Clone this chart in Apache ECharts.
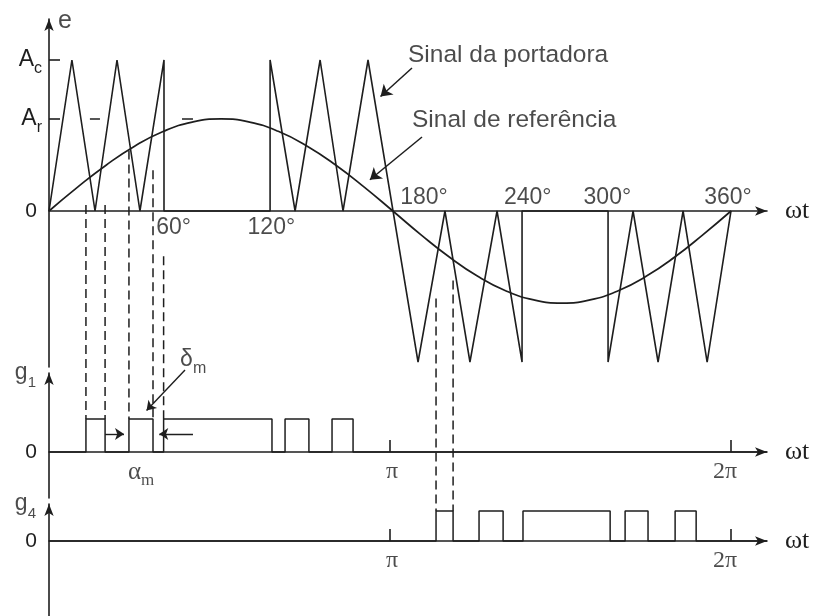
<!DOCTYPE html>
<html><head><meta charset="utf-8">
<script src="https://cdn.jsdelivr.net/npm/echarts@6/dist/echarts.min.js"></script>
<style>html,body{margin:0;padding:0;background:#fff}#c{width:813px;height:616px}</style>
</head><body><div id="c"></div>
<script>
// Angle axis in degrees: 360 = one period (2π) of the reference wave.
const refAngles = [0, 15.1, 30.3, 45.4, 60.5, 75.6, 90.8, 105.9, 121, 136.1, 151.3, 166.4, 181.5,
                   196.4, 211.3, 226.1, 241, 255.9, 270.8, 285.6, 300.5, 315.4, 330.3, 345.1, 360];
const refValues = [0, 0.158, 0.305, 0.431, 0.528, 0.589, 0.61, 0.589, 0.528, 0.431, 0.305, 0.158, 0,
                   -0.158, -0.305, -0.431, -0.528, -0.589, -0.61, -0.589, -0.528, -0.431, -0.305, -0.158, 0];

// Triangular carrier, switched off in the middle 60° of each half cycle.
const carrierAngles = [0, 12.1, 24.3, 35.9, 48, 60.7, 60.7, 116.7, 116.7, 129.9, 143.1, 155.2, 168.4, 181.6,
                       194.8, 209, 222.2, 236.5, 249.7, 249.7, 295.1, 295.1, 308.3, 321.5, 334.7, 347.4, 360];
const carrierValues = [0, 1, 0, 1, 0, 1, 0, 0, 1, 0, 1, 0, 1, 0,
                       -1, 0, -1, 0, -1, 0, 0, -1, 0, -1, 0, -1, 0];

const Ac = 1;
const Ar = 0.61;
const arMarks = [[21.6, 26.9], [70.2, 76]];

// Gate signals: [on, off] angles of every pulse.
const g1Pulses = [[19.5, 29.6], [42.2, 54.9], [60.5, 117.7], [124.6, 137.2], [149.4, 160.5]];
const g4Pulses = [[204.3, 213.3], [227, 239.7], [250.2, 296.2], [304.1, 316.2], [330.5, 341.6]];

// Heights on the e panel where the dashed edge guides begin.
const g1GuideStarts = [0.04, 0.04, 0.40, 0.27, -0.30];
const g4GuideStarts = [-0.58, -0.46];

const degTicks = [60, 120, 180, 240, 300, 360];
const degLabels = ['60°', '120°', '180°', '240°', '300°', '360°'];
const piTicks = [180, 360];
const piLabels = ['π', '2π'];

const ink = '#1e1e1e';
const sans = '"Liberation Sans", Arial, Helvetica, sans-serif';
const serif = '"Liberation Serif", "Times New Roman", serif';
const xMax = 379;

const zip = (a, b) => a.map((v, i) => [v, b[i]]);
const pulseTrain = pulses => {
  const pts = [[0, 0]];
  pulses.forEach(([a, b]) => { pts.push([a, 0], [a, 1], [b, 1], [b, 0]); });
  pts.push([xMax, 0]);
  return pts;
};

const axisLineStyle = { color: ink, width: 1.6 };
const arrowLine = { show: true, onZero: false, symbol: ['none', 'arrow'], symbolSize: [7, 12], lineStyle: axisLineStyle };

function xAxisFor(gi, withPi) {
  return {
    type: 'value', gridIndex: gi, min: 0, max: xMax,
    axisLine: { show: true, onZero: true, symbol: ['none', 'arrow'], symbolSize: [7, 12], lineStyle: axisLineStyle },
    splitLine: { show: false },
    axisTick: withPi ? { show: true, inside: true, length: 12, customValues: piTicks, lineStyle: axisLineStyle } : { show: false },
    axisLabel: { show: false },
    name: 'ωt', nameLocation: 'end', nameGap: 18,
    nameTextStyle: { fontFamily: serif, fontSize: 26, color: ink, align: 'left', verticalAlign: 'middle' }
  };
}

const zeroLabel = {
  show: true, customValues: [0], formatter: () => '0', margin: 12,
  fontFamily: sans, fontSize: 21, color: ink
};

const subRich = (mainSize, subSize, fam) => ({
  a: { fontFamily: fam, fontSize: mainSize, lineHeight: 34, color: ink },
  s: { fontFamily: fam, fontSize: subSize, lineHeight: 16, verticalAlign: 'bottom', color: ink }
});

const textPoint = (x, y, text, label) => ({
  value: [x, y],
  label: Object.assign({ show: true, formatter: text, color: ink, fontFamily: sans, fontSize: 23, textBorderWidth: 0 }, label)
});

const degOffsets = [[11, 17], [-5, 17], [34, -13], [24, -13], [-10, -13], [-3, -13]];
const piOffsets = [[2, 20], [-6, 20]];
const piTexts = () => piTicks.map((v, i) => textPoint(v, 0, piLabels[i], {
  position: 'inside', offset: piOffsets[i], fontFamily: serif, fontSize: 24
}));

const option = {
  animation: false,
  backgroundColor: '#fff',
  grid: [
    { left: 49, right: 46, top: 19, height: 348, outerBoundsMode: 'none' },
    { left: 49, right: 46, top: 373, height: 125, outerBoundsMode: 'none' },
    { left: 49, right: 46, top: 504, height: 112, outerBoundsMode: 'none' }
  ],
  xAxis: [xAxisFor(0, false), xAxisFor(1, true), xAxisFor(2, true)],
  yAxis: [
    {
      type: 'value', gridIndex: 0, min: -1.0331, max: 1.2715,
      axisLine: arrowLine, splitLine: { show: false },
      axisTick: { show: true, inside: true, length: 11, customValues: [Ar, Ac], lineStyle: axisLineStyle },
      axisLabel: {
        show: true, customValues: [0, Ar, Ac], margin: 7,
        formatter: v => v === 0 ? '{n|0}' : (v === Ac ? '{a|A}{s|c}' : '{a|A}{s|r}'),
        rich: Object.assign(subRich(23, 16, sans), {
          n: { fontFamily: sans, fontSize: 21, color: ink, padding: [0, 5, 0, 0] }
        })
      }
    },
    {
      type: 'value', gridIndex: 1, min: -1.3939, max: 2.3939,
      axisLine: arrowLine, splitLine: { show: false }, axisTick: { show: false }, axisLabel: zeroLabel
    },
    {
      type: 'value', gridIndex: 2, min: -2.5, max: 1.2333,
      axisLine: arrowLine, splitLine: { show: false }, axisTick: { show: false }, axisLabel: zeroLabel
    }
  ],
  series: [
    {
      name: 'Sinal de referência', type: 'line', xAxisIndex: 0, yAxisIndex: 0,
      data: zip(refAngles, refValues), smooth: true, showSymbol: false, silent: true,
      lineStyle: { color: ink, width: 1.7 }
    },
    {
      name: 'Sinal da portadora', type: 'line', xAxisIndex: 0, yAxisIndex: 0,
      data: zip(carrierAngles, carrierValues), showSymbol: false, silent: true,
      lineStyle: { color: ink, width: 1.6 }
    },
    {
      type: 'lines', coordinateSystem: 'cartesian2d', xAxisIndex: 0, yAxisIndex: 0, silent: true,
      symbol: 'none', lineStyle: { color: ink, width: 1.5, opacity: 1 },
      data: arMarks.map(([a, b]) => ({ coords: [[a, Ar], [b, Ar]] }))
    },
    {
      name: 'g1', type: 'line', xAxisIndex: 1, yAxisIndex: 1,
      data: pulseTrain(g1Pulses), showSymbol: false, silent: true,
      lineStyle: { color: ink, width: 1.5 }
    },
    {
      name: 'g4', type: 'line', xAxisIndex: 2, yAxisIndex: 2,
      data: pulseTrain(g4Pulses), showSymbol: false, silent: true,
      lineStyle: { color: ink, width: 1.5 }
    },
    // annotation arrows on the e panel
    {
      type: 'lines', coordinateSystem: 'cartesian2d', xAxisIndex: 0, yAxisIndex: 0, silent: true, clip: false,
      symbol: ['none', 'arrow'], symbolSize: [7, 11], lineStyle: { color: ink, width: 1.5, opacity: 1 },
      data: [
        { coords: [[191.6, 0.947], [175.0, 0.758]] },
        { coords: [[196.9, 0.490], [169.4, 0.207]] }
      ]
    },
    // δm arrow and pulse width arrows on the g1 panel
    {
      type: 'lines', coordinateSystem: 'cartesian2d', xAxisIndex: 1, yAxisIndex: 1, silent: true, clip: false,
      symbol: ['none', 'arrow'], symbolSize: [6, 9], lineStyle: { color: ink, width: 1.4, opacity: 1 },
      data: [
        { coords: [[71.8, 2.485], [51.5, 1.26]] },
        { coords: [[29.6, 0.545], [39.6, 0.545]] },
        { coords: [[76.0, 0.545], [58.2, 0.545]] }
      ]
    },
    // texts on the e panel
    {
      type: 'scatter', xAxisIndex: 0, yAxisIndex: 0, symbolSize: 0, silent: true, clip: false,
      data: [
        textPoint(189.5, 1.033, 'Sinal da portadora', { position: 'right', distance: 0, fontSize: 24.5 }),
        textPoint(191.6, 0.603, 'Sinal de referência', { position: 'right', distance: 0, fontSize: 24.5 }),
        textPoint(4.75, 1.258, 'e', { position: 'right', distance: 0, fontSize: 25 }),
        textPoint(69.2, -0.987, '{a|δ}{s|m}', { position: 'right', distance: 0, rich: subRich(23, 16, sans) })
      ].concat(degTicks.map((d, i) => textPoint(d, 0, degLabels[i], { position: 'inside', offset: degOffsets[i] })))
    },
    // texts on the g1 panel
    {
      type: 'scatter', xAxisIndex: 1, yAxisIndex: 1, symbolSize: 0, silent: true, clip: false,
      data: [
        textPoint(41.7, -0.606, '{a|α}{s|m}', { position: 'right', distance: 0, rich: subRich(25, 17, serif) }),
        textPoint(0, 2.3939, '{a|g}{s|1}', { position: 'left', distance: 13, rich: subRich(23, 15, sans) })
      ].concat(piTexts())
    },
    // texts on the g4 panel
    {
      type: 'scatter', xAxisIndex: 2, yAxisIndex: 2, symbolSize: 0, silent: true, clip: false,
      data: [
        textPoint(0, 1.2333, '{a|g}{s|4}', { position: 'left', distance: 13, rich: subRich(23, 15, sans) })
      ].concat(piTexts())
    }
  ]
};

const chart = echarts.init(document.getElementById('c'), null, { renderer: 'canvas' });
chart.setOption(option);

// Dashed guides from the e panel down to the gate pulse edges.
function guide(x, yStart, gi) {
  const p0 = chart.convertToPixel({ gridIndex: 0 }, [x, yStart]);
  const p1 = chart.convertToPixel({ gridIndex: gi }, [x, 1]);
  return {
    type: 'line', silent: true,
    shape: { x1: p0[0], y1: p0[1], x2: p1[0], y2: p1[1] },
    style: { stroke: ink, lineWidth: 1.5, lineDash: [9, 5] }
  };
}
const g1Edges = [g1Pulses[0][0], g1Pulses[0][1], g1Pulses[1][0], g1Pulses[1][1], g1Pulses[2][0]];
const guides = g1Edges.map((x, i) => guide(x, g1GuideStarts[i], 1))
  .concat(g4Pulses[0].map((x, i) => guide(x, g4GuideStarts[i], 2)));
chart.setOption({ graphic: guides });
</script>
</body></html>
